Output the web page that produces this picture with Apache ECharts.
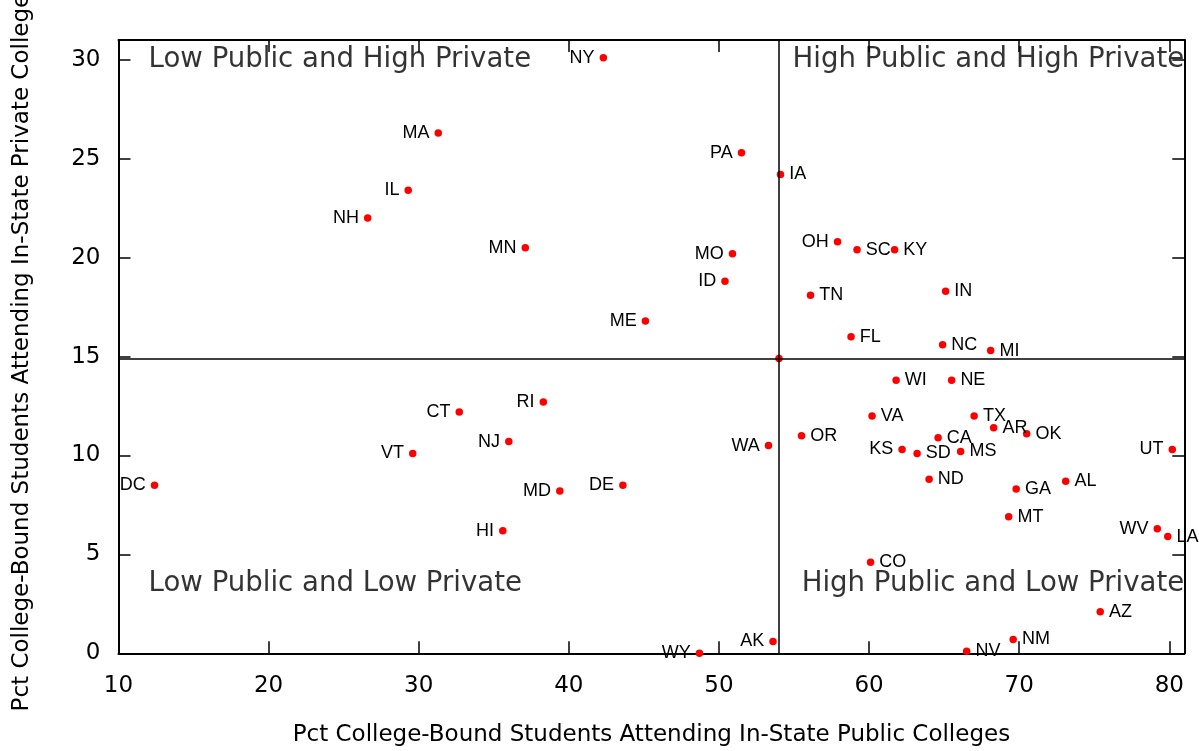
<!DOCTYPE html>
<html>
<head>
<meta charset="utf-8">
<title>In-State College Attendance by State</title>
<script src="https://cdn.jsdelivr.net/npm/echarts@6/dist/echarts.min.js"></script>
<style>
  html, body { margin: 0; padding: 0; background: #ffffff; }
  #chart { width: 1199px; height: 751px; }
</style>
</head>
<body>
<div id="chart"></div>
<script>
// State codes and the share of college-bound students attending in-state colleges
const states = ['NY','MA','PA','IA','IL','NH','MN','MO','ID','ME','RI','CT','NJ','VT','WA','MD','DE','DC','HI','WY','AK',
                'OH','SC','KY','TN','IN','FL','NC','MI','WI','NE','VA','TX','AR','OK','OR','CA','KS','SD','MS','UT',
                'ND','AL','GA','MT','WV','LA','CO','AZ','NM','NV'];
const publicPct = [42.3, 31.3, 51.5, 54.1, 29.3, 26.6, 37.1, 50.9, 50.4, 45.1, 38.3, 32.7, 36.0, 29.6, 53.3, 39.4, 43.6, 12.4, 35.6, 48.7, 53.6,
                   57.9, 59.2, 61.7, 56.1, 65.1, 58.8, 64.9, 68.1, 61.8, 65.5, 60.2, 67.0, 68.3, 70.5, 55.5, 64.6, 62.2, 63.2, 66.1, 80.2,
                   64.0, 73.1, 69.8, 69.3, 79.2, 79.9, 60.1, 75.4, 69.6, 66.5];
const privatePct = [30.1, 26.3, 25.3, 24.2, 23.4, 22.0, 20.5, 20.2, 18.8, 16.8, 12.7, 12.2, 10.7, 10.1, 10.5, 8.2, 8.5, 8.5, 6.2, 0.0, 0.6,
                    20.8, 20.4, 20.4, 18.1, 18.3, 16.0, 15.6, 15.3, 13.8, 13.8, 12.0, 12.0, 11.4, 11.1, 11.0, 10.9, 10.3, 10.1, 10.2, 10.3,
                    8.8, 8.7, 8.3, 6.9, 6.3, 5.9, 4.6, 2.1, 0.7, 0.1];

// National averages that split the plot into quadrants
const avgPublic = 54.0;
const avgPrivate = 14.9;

// Quadrant captions and where they sit (data units)
const quadrantNames = ['Low Public and High Private', 'High Public and High Private',
                       'Low Public and Low Private', 'High Public and Low Private'];
const quadrantX = [12, 81, 12, 81];
const quadrantY = [30, 30, 3.5, 3.5];

// Axis extents and tick step
const xMin = 10, xMax = 81, xStep = 10;
const yMin = 0, yMax = 31, yStep = 5;

// States whose code is written to the left of the dot
const labelOnLeft = new Set(['NY','MA','PA','IL','NH','MN','MO','ID','ME','RI','CT','NJ','VT','WA','MD','DE','DC','HI','WY','AK',
                             'OH','KS','UT','WV']);

const tickFont = 'DejaVu Sans';
const pointFont = 'Liberation Sans';

const stateData = states.map((s, i) => ({
  name: s,
  value: [publicPct[i], privatePct[i]],
  label: { position: labelOnLeft.has(s) ? 'left' : 'right' }
}));

const quadrantData = quadrantNames.map((n, i) => ({
  name: n,
  value: [quadrantX[i], quadrantY[i]],
  label: { position: quadrantX[i] < avgPublic ? 'right' : 'left' }
}));

function frameAxis(extra) {
  return Object.assign({
    type: 'value',
    axisLine: { show: true, onZero: false, lineStyle: { color: '#000', width: 2 } },
    axisTick: { show: true, inside: true, length: 12, lineStyle: { color: '#000', width: 1.5 } },
    splitLine: { show: false }
  }, extra);
}

const chart = echarts.init(document.getElementById('chart'), null, { renderer: 'canvas' });
chart.setOption({
  backgroundColor: '#ffffff',
  animation: false,
  grid: { left: 118.5, right: 14.7, top: 40, bottom: 97.7, containLabel: false, outerBoundsMode: 'none' },
  xAxis: [
    frameAxis({
      position: 'bottom', min: xMin, max: xMax, interval: xStep,
      name: 'Pct College-Bound Students Attending In-State Public Colleges',
      nameLocation: 'middle', nameGap: 70,
      nameTextStyle: { fontFamily: tickFont, fontSize: 23, color: '#000' },
      axisLabel: { show: true, margin: 21, showMaxLabel: false, fontFamily: tickFont, fontSize: 23, color: '#000' }
    }),
    frameAxis({
      position: 'top', min: xMin, max: xMax, interval: xStep,
      axisLabel: { show: false }
    })
  ],
  yAxis: [
    frameAxis({
      position: 'left', min: yMin, max: yMax, interval: yStep,
      name: 'Pct College-Bound Students Attending In-State Private Colleges',
      nameLocation: 'middle', nameGap: 85,
      nameTextStyle: { fontFamily: tickFont, fontSize: 23, color: '#000' },
      axisLabel: { show: true, margin: 18, showMaxLabel: false, fontFamily: tickFont, fontSize: 23, color: '#000' }
    }),
    frameAxis({
      position: 'right', min: yMin, max: yMax, interval: yStep,
      axisLabel: { show: false }
    })
  ],
  series: [
    {
      type: 'scatter',
      xAxisIndex: 0, yAxisIndex: 0,
      symbol: 'circle', symbolSize: 7.5,
      itemStyle: { color: '#ff0000', opacity: 1 },
      label: {
        show: true, formatter: '{b}', distance: 5,
        fontFamily: pointFont, fontSize: 18, color: '#000'
      },
      data: stateData,
      markLine: {
        silent: true, symbol: 'none', animation: false,
        label: { show: false },
        lineStyle: { color: '#000', width: 1.5, type: 'solid', opacity: 1 },
        data: [{ xAxis: avgPublic }, { yAxis: avgPrivate }]
      },
      z: 3
    },
    {
      // the national average point at the crossing of the divider lines
      type: 'scatter',
      symbol: 'circle', symbolSize: 7.5,
      itemStyle: { color: '#ff0000', opacity: 1 },
      data: [[avgPublic, avgPrivate]],
      z: 4
    },
    {
      type: 'scatter',
      symbolSize: 0,
      silent: true,
      label: {
        show: true, formatter: '{b}', distance: 0,
        fontFamily: tickFont, fontSize: 27.6, color: '#000'
      },
      data: quadrantData,
      z: 2
    }
  ]
});
</script>
</body>
</html>
